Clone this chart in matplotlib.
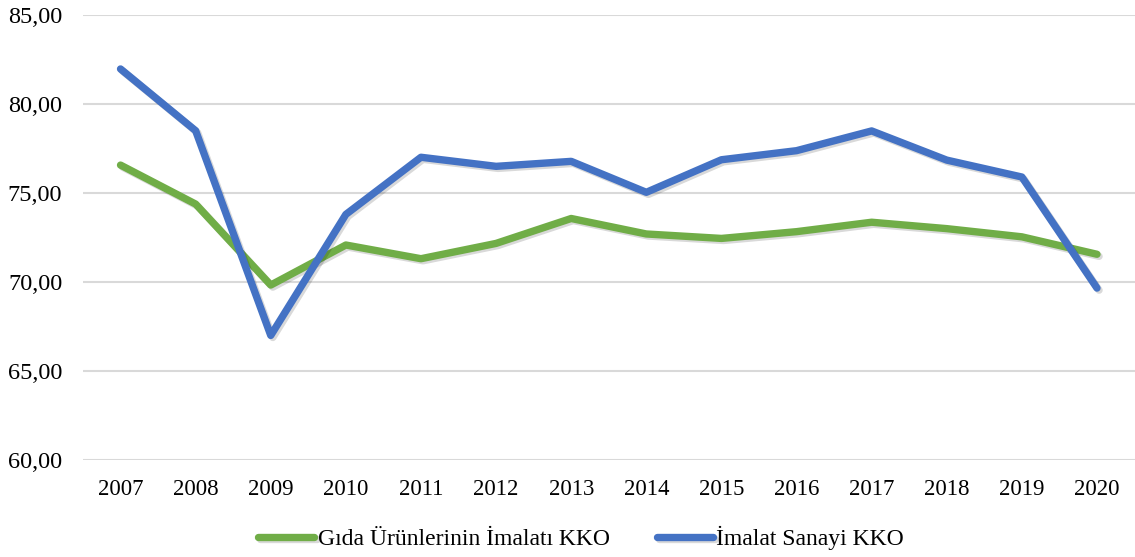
import matplotlib.pyplot as plt
import matplotlib.patheffects as pe

years = ['2007', '2008', '2009', '2010', '2011', '2012', '2013',
         '2014', '2015', '2016', '2017', '2018', '2019', '2020']
gida = [76.57, 74.38, 69.83, 72.08, 71.31, 72.17, 73.57,
        72.70, 72.45, 72.83, 73.36, 73.00, 72.54, 71.56]
imalat = [81.97, 78.50, 67.00, 73.80, 77.01, 76.50, 76.78,
          75.04, 76.87, 77.38, 78.49, 76.85, 75.90, 69.66]
yticks = [60, 65, 70, 75, 80, 85]

plt.rcParams['font.family'] = ['Liberation Serif', 'DejaVu Serif']

fig = plt.figure(figsize=(11.35, 5.57), dpi=100)
ax = fig.add_axes([0.0731, 0.1741, 0.9265, 0.7989])

x = list(range(len(years)))
shadow = [pe.SimpleLineShadow(offset=(1.5, -1.5), alpha=0.15, shadow_color='black'), pe.Normal()]
ax.plot(x, gida, color='#70AD47', linewidth=5.3, solid_capstyle='round',
        solid_joinstyle='round', label='Gıda Ürünlerinin İmalatı KKO', path_effects=shadow)
ax.plot(x, imalat, color='#4472C4', linewidth=5.3, solid_capstyle='round',
        solid_joinstyle='round', label='İmalat Sanayi KKO', path_effects=shadow)

ax.set_xlim(-0.5, len(years) - 0.5)
ax.set_ylim(60, 85)
ax.set_yticks(yticks)
ax.set_yticklabels([f'{v:.2f}'.replace('.', ',') for v in yticks], fontsize=17.5)
ax.set_xticks(x)
ax.set_xticklabels(years, fontsize=16.5)
ax.tick_params(length=0)
ax.tick_params(axis='y', pad=15)
ax.tick_params(axis='x', pad=13.5)

for s in ax.spines.values():
    s.set_visible(False)
ax.grid(axis='y', color='#D9D9D9', linewidth=1.5)
ax.set_axisbelow(True)

ax.legend(loc='center', bbox_to_anchor=(0.4736, -0.175), ncol=2, frameon=False,
          fontsize=17, handlelength=2.4, handletextpad=0.13, columnspacing=2.0)

plt.savefig('out.png', dpi=100)
